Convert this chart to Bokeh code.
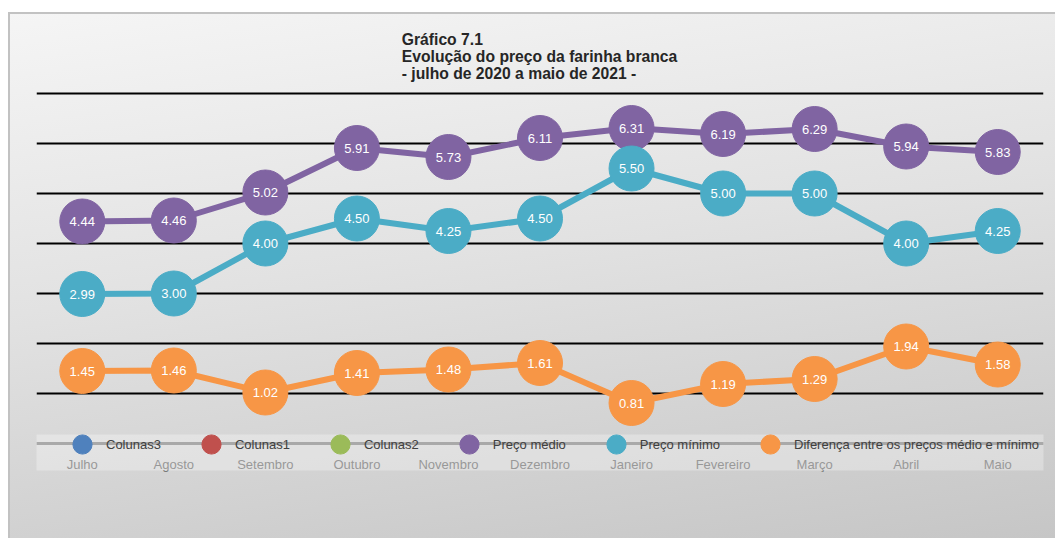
from bokeh.plotting import figure
from bokeh.models import Legend, LegendItem, Label, BoxAnnotation, ColumnDataSource, FixedTicker
from bokeh.core.properties import value
from bokeh.embed import file_html
from bokeh.resources import INLINE

months = ["Julho", "Agosto", "Setembro", "Outubro", "Novembro", "Dezembro",
          "Janeiro", "Fevereiro", "Março", "Abril", "Maio"]
preco_medio = [4.44, 4.46, 5.02, 5.91, 5.73, 6.11, 6.31, 6.19, 6.29, 5.94, 5.83]
preco_minimo = [2.99, 3.00, 4.00, 4.50, 4.25, 4.50, 5.50, 5.00, 5.00, 4.00, 4.25]
diferenca = [1.45, 1.46, 1.02, 1.41, 1.48, 1.61, 0.81, 1.19, 1.29, 1.94, 1.58]
empty_series = [float("nan")] * len(months)
grid_values = [1, 2, 3, 4, 5, 6, 7]
empty_names = ["Colunas3", "Colunas1", "Colunas2"]
empty_colors = ["#4F81BD", "#C0504D", "#9BBB59"]
series_names = ["Preço médio", "Preço mínimo", "Diferença entre os preços médio e mínimo"]
series_colors = ["#8064A2", "#4BACC6", "#F79646"]
title_text = "Gráfico 7.1\nEvolução do preço da farinha branca\n- julho de 2020 a maio de 2021 -"

FONT = "Liberation Sans"
W, H = 1047, 526

p = figure(x_range=months, y_range=(-1.14, 8.58), width=W, height=H,
           output_backend="svg", toolbar_location=None,
           min_border_left=28, min_border_right=12,
           min_border_top=2, min_border_bottom=38)
p.margin = (12, 0, 0, 8)
p.background_fill_color = None
p.border_fill_color = None
p.outline_line_color = None
p.styles = {
    "background": "linear-gradient(172deg, #f5f5f5 0%, #e2e2e2 45%, #c6c6c6 100%)",
    "box-shadow": "inset 2px 2px 0 0 #c2c2c2",
}

p.yaxis.visible = False
p.ygrid.ticker = FixedTicker(ticks=grid_values)
p.ygrid.grid_line_color = "#000000"
p.ygrid.grid_line_width = 2
p.xgrid.grid_line_color = None

ax = p.xaxis[0]
ax.fixed_location = 0
ax.axis_line_color = "#858585"
ax.axis_line_width = 3
ax.major_tick_line_color = None
ax.minor_tick_line_color = None
ax.major_label_standoff = 7
ax.major_label_text_font = FONT
ax.major_label_text_font_size = "13px"
ax.major_label_text_color = "#6c6c6c"

legend_items = []
for name, col in zip(empty_names, empty_colors):
    src = ColumnDataSource(dict(x=months, y=empty_series))
    r = p.scatter("x", "y", source=src, size=20, color=col)
    legend_items.append(LegendItem(label=name, renderers=[r]))

for name, col, vals in zip(series_names, series_colors, [preco_medio, preco_minimo, diferenca]):
    src = ColumnDataSource(dict(x=months, y=vals, t=["%.2f" % v for v in vals]))
    p.line("x", "y", source=src, line_color=col, line_width=6)
    r = p.scatter("x", "y", source=src, size=45, fill_color=col, line_color=col)
    p.text("x", "y", text="t", source=src, text_color="white", text_align="center",
           text_baseline="middle", text_font=value(FONT), text_font_size="13px")
    legend_items.append(LegendItem(label=name, renderers=[r]))

band = BoxAnnotation(left=-0.08, right=11.03, bottom=-0.54, top=0.18,
                     fill_color="white", fill_alpha=0.3, line_color=None)
p.add_layout(band)

legend = Legend(items=legend_items, orientation="horizontal", location=(22, 32),
                glyph_width=48, glyph_height=48, label_standoff=-4, spacing=26,
                padding=0, margin=0, border_line_color=None, background_fill_alpha=0,
                label_text_font=FONT, label_text_font_size="13px", label_text_color="#404040")
p.add_layout(legend)

title = Label(x=3.99, y=8.26, text=title_text, text_font=FONT, text_font_size="15.7px",
              text_font_style="bold", text_color="#262626", text_baseline="top",
              text_align="left", text_line_height=1.0)
p.add_layout(title)

open("out.html", "w").write(file_html(p, INLINE))
